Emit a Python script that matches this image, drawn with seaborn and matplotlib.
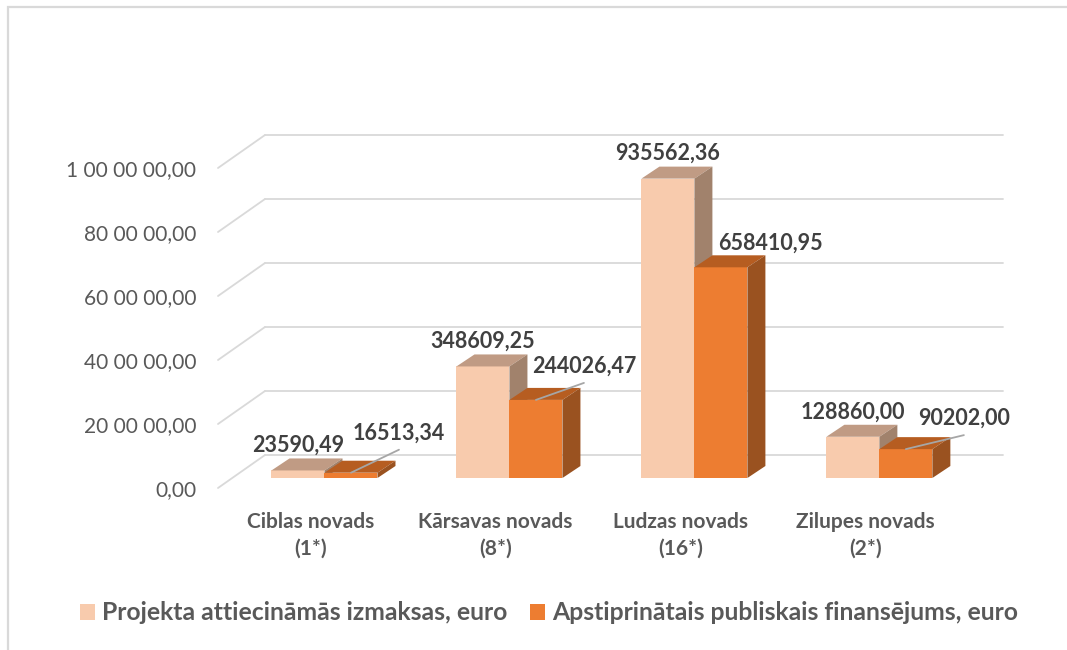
import numpy as np
import pandas as pd
import matplotlib
matplotlib.use("Agg")
import matplotlib.pyplot as plt
import seaborn as sns
from matplotlib.patches import Polygon, Rectangle
from matplotlib.lines import Line2D

# ---------------- data ----------------
categories = ["Ciblas novads\n(1*)", "Kārsavas novads\n(8*)",
              "Ludzas novads\n(16*)", "Zilupes novads\n(2*)"]
series_names = ["Projekta attiecināmās izmaksas, euro",
                "Apstiprinātais publiskais finansējums, euro"]
costs = [23590.49, 348609.25, 935562.36, 128860.00]
funding = [16513.34, 244026.47, 658410.95, 90202.00]
y_ticks = [0, 200000, 400000, 600000, 800000, 1000000]
y_tick_labels = ["0,00", "20 00 00,00", "40 00 00,00", "60 00 00,00",
                 "80 00 00,00", "1 00 00 00,00"]

# ---------------- style ----------------
front_colors = ["#F8CBAD", "#ED7D31"]
top_colors = ["#C09B84", "#B65D21"]
side_colors = ["#A1826C", "#9A5220"]
grid_color = "#D9D9D9"
text_gray = "#595959"
label_dark = "#404040"
leader_color = "#A6A6A6"

# pixel offsets (dx right, dy down) of the 3D effect
DEPTH = (18, -12)          # bar depth
BACK = (33, -23)           # bar plane -> back wall
FRONT = (-14, 10)          # bar plane -> front (axis) plane
# orange-label offsets (px) and whether a leader line is drawn
orange_offsets = [(48, -40), (48, -34), (50, -24), (58, -31)]
orange_leader = [True, True, False, True]

sns.set_theme(style="white")
plt.rcParams["font.family"] = ["Lato", "DejaVu Sans"]

W, H = 1067, 650
fig = plt.figure(figsize=(W / 100, H / 100), dpi=100)
fig.patch.set_facecolor("white")

# bar plane axes
left_px, right_px, base_px, top_px = 232, 970, 478, 158
ax = fig.add_axes([left_px / W, (H - base_px) / H,
                   (right_px - left_px) / W, (base_px - top_px) / H])
ax.patch.set_visible(False)
ax.set_zorder(2)

df = pd.DataFrame({
    "Novads": categories * 2,
    "Sērija": [series_names[0]] * 4 + [series_names[1]] * 4,
    "Vērtība": costs + funding,
})
sns.barplot(data=df, x="Novads", y="Vērtība", hue="Sērija",
            palette=front_colors, width=0.573, saturation=1,
            errorbar=None, linewidth=0, legend=False, ax=ax)
xl, xr = -0.5, 3.49
ax.set_xlim(xl, xr)
ax.set_ylim(0, 1000000)
ax.set_axis_off()

# front plane axes (carry the tick labels)
axl = fig.add_axes([(left_px + FRONT[0]) / W, (H - base_px - FRONT[1]) / H,
                    (right_px - left_px) / W, (base_px - top_px) / H])
axl.set_zorder(1)
axl.patch.set_visible(False)
axl.set_xlim(xl, xr)
axl.set_ylim(0, 1000000)
for s in axl.spines.values():
    s.set_visible(False)
axl.set_yticks(y_ticks)
axl.set_yticklabels(y_tick_labels, fontsize=15, color=text_gray)
axl.set_xticks(range(len(categories)))
axl.set_xticklabels(categories, fontsize=15, color=text_gray,
                    fontweight="bold", linespacing=1.42)
axl.tick_params(axis="y", length=0, pad=15.8)
axl.tick_params(axis="x", length=0, pad=17)
axl.grid(False)

fig.canvas.draw()


def to_data(x, v, dx=0, dy=0):
    p = ax.transData.transform((x, v)) + np.array([dx, -dy])
    return ax.transData.inverted().transform(p)


# back wall gridlines and diagonals
for v in y_ticks:
    a = to_data(xl, v, *BACK)
    b = to_data(xr, v, *BACK)
    c = to_data(xl, v, *FRONT)
    ax.add_line(Line2D([a[0], b[0]], [a[1], b[1]], color=grid_color,
                       lw=1.3, zorder=0.5, clip_on=False))
    ax.add_line(Line2D([c[0], a[0]], [c[1], a[1]], color=grid_color,
                       lw=1.3, zorder=0.5, clip_on=False))

# 3D faces, labels
for si, cont in enumerate(ax.containers):
    for ci, bar in enumerate(cont):
        x0, w, h = bar.get_x(), bar.get_width(), bar.get_height()
        bar.set_zorder(2 + si)
        top = [to_data(x0, h), to_data(x0 + w, h),
               to_data(x0 + w, h, *DEPTH), to_data(x0, h, *DEPTH)]
        side = [to_data(x0 + w, 0), to_data(x0 + w, h),
                to_data(x0 + w, h, *DEPTH), to_data(x0 + w, 0, *DEPTH)]
        ax.add_patch(Polygon(top, closed=True, fc=top_colors[si], ec="none",
                             zorder=2 + si, clip_on=False))
        ax.add_patch(Polygon(side, closed=True, fc=side_colors[si], ec="none",
                             zorder=2 + si, clip_on=False))
        txt = f"{h:.2f}".replace(".", ",")
        cx = x0 + w / 2
        if si == 0:
            dx, dy = 0, -25
        else:
            dx, dy = orange_offsets[ci]
            if orange_leader[ci]:
                p1 = to_data(cx, h, 0, 0)
                p2 = to_data(cx, h, dx, dy + 17)
                ax.add_line(Line2D([p1[0], p2[0]], [p1[1], p2[1]],
                                   color=leader_color, lw=1.3, zorder=6,
                                   clip_on=False))
        ax.annotate(txt, xy=(cx, h), xycoords="data", xytext=(dx, -dy),
                    textcoords="offset pixels", ha="center", va="center",
                    fontsize=15.5, fontweight="bold", color=label_dark,
                    zorder=7, annotation_clip=False)

# legend
handles = [Rectangle((0, 0), 1, 1, fc=c, ec="none") for c in front_colors]
leg = fig.legend(handles, series_names, loc="center",
                 bbox_to_anchor=(549 / W, 1 - 613 / H), ncol=2,
                 frameon=False, handlelength=0.6, handleheight=0.6,
                 handletextpad=0.3, columnspacing=0.9,
                 prop={"size": 17.8, "weight": "bold"})
for t in leg.get_texts():
    t.set_color(text_gray)

# chart border
fig.add_artist(Rectangle((7.5 / W, -0.1), 2.0, 1 - 6.5 / H + 0.1,
                         transform=fig.transFigure, fill=False,
                         ec=grid_color, lw=1.6))

fig.savefig("out.png", dpi=100)
